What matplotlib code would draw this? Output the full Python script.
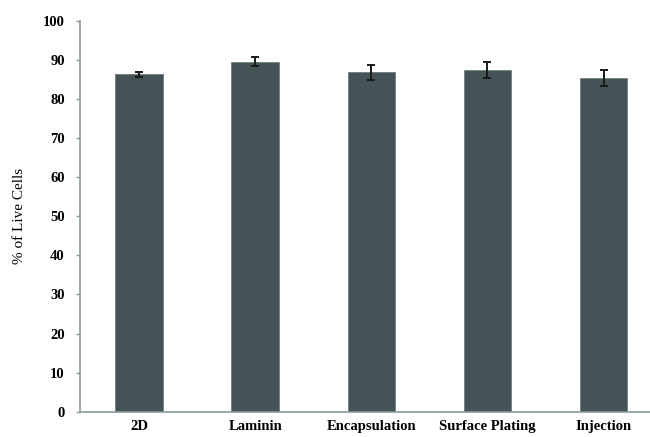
import matplotlib
matplotlib.use("Agg")
import matplotlib.pyplot as plt
import numpy as np

categories = ["2D", "Laminin", "Encapsulation", "Surface Plating", "Injection"]
values = [86.3, 89.6, 86.9, 87.4, 85.4]
errors = [0.6, 1.2, 1.9, 2.0, 2.1]
yticks = [0, 10, 20, 30, 40, 50, 60, 70, 80, 90, 100]

plt.rcParams['font.family'] = ['Liberation Serif', 'DejaVu Serif']

fig = plt.figure(figsize=(6.5, 4.37), dpi=100)
ax = fig.add_axes([0.123, 0.058, 0.877, 0.894])

x = np.arange(len(categories))
ax.bar(x, values, width=0.41, color="#445356", edgecolor="#6f7c7e", linewidth=0.6,
       yerr=errors, capsize=3, error_kw=dict(ecolor="#1a1a1a", elinewidth=1.4, capthick=1.4))

ax.set_xlim(-0.51, 4.4)
ax.set_ylim(0, 100)
ax.set_yticks(yticks)
ax.set_yticklabels([str(t) for t in yticks], fontsize=10.5, fontweight='bold')
ax.set_xticks(x)
ax.set_xticklabels(categories, fontsize=10.5, fontweight='bold')
ax.tick_params(axis='x', length=0, pad=6)
ax.tick_params(axis='y', length=3, width=1, color="#8a9a9a", pad=8)
for s in ['top', 'right']:
    ax.spines[s].set_visible(False)
for s in ['left', 'bottom']:
    ax.spines[s].set_color("#8a9a9a")
    ax.spines[s].set_linewidth(1.2)
ax.set_ylabel("% of Live Cells", fontsize=11, labelpad=12)

fig.savefig("out.png", dpi=100)
